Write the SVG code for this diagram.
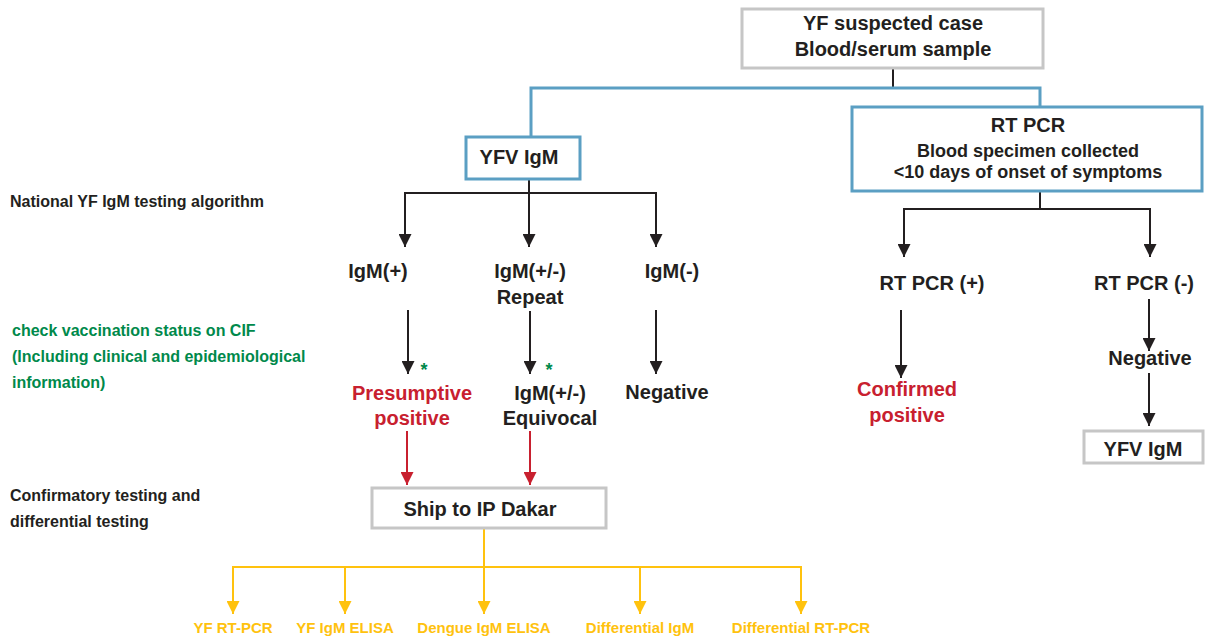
<svg xmlns="http://www.w3.org/2000/svg" width="1205" height="636" viewBox="0 0 1205 636">
  <defs>
    <style>
      text { font-family: "Liberation Sans Narrow", "Liberation Sans", "DejaVu Sans Condensed", sans-serif; font-weight: bold; }
      .t { font-size: 20px; fill: #231f20; text-anchor: middle; }
      .lbl { font-size: 16px; fill: #231f20; }
      .grn { font-size: 16px; fill: #00894b; }
      .red { fill: #c8202f; }
      .yel { font-size: 15px; fill: #ffc20e; text-anchor: middle; }
      .box-grey { fill: #ffffff; stroke: #c6c6c6; stroke-width: 3; }
      .box-blue { fill: #ffffff; stroke: #5b9fc3; stroke-width: 3; }
      .k { fill: none; stroke: #231f20; stroke-width: 2; }
      .b { fill: none; stroke: #5b9fc3; stroke-width: 3; }
      .r { fill: none; stroke: #c8202f; stroke-width: 2; }
      .y { fill: none; stroke: #ffc20e; stroke-width: 2; }
      .star { font-size: 18px; fill: #00894b; text-anchor: middle; }
    </style>
    <!-- filled arrowheads, drawn pointing along the path direction -->
    <marker id="ak" markerWidth="13" markerHeight="13" viewBox="0 0 13 13" refX="13" refY="6.5" orient="auto" markerUnits="userSpaceOnUse">
      <path d="M0,0 L13,6.5 L0,13 Z" fill="#231f20"/>
    </marker>
    <marker id="ar" markerWidth="13" markerHeight="13" viewBox="0 0 13 13" refX="13" refY="6.5" orient="auto" markerUnits="userSpaceOnUse">
      <path d="M0,0 L13,6.5 L0,13 Z" fill="#c8202f"/>
    </marker>
    <marker id="ay" markerWidth="13" markerHeight="13" viewBox="0 0 13 13" refX="13" refY="6.5" orient="auto" markerUnits="userSpaceOnUse">
      <path d="M0,0 L13,6.5 L0,13 Z" fill="#ffc20e"/>
    </marker>
  </defs>
  <rect width="1205" height="636" fill="#ffffff"/>

  <!-- connectors -->
  <g id="connectors">
    <path class="k" d="M893,68 V88"/>
    <path class="b" d="M531,137 V88 H1040 V107"/>
    <path class="k" d="M529,180 V193 M404,193 H657"/>
    <path class="k" d="M405,193 V247" marker-end="url(#ak)"/>
    <path class="k" d="M529,193 V247" marker-end="url(#ak)"/>
    <path class="k" d="M656,193 V247" marker-end="url(#ak)"/>
    <path class="k" d="M1040,191 V209 M903,209 H1151"/>
    <path class="k" d="M904,209 V257" marker-end="url(#ak)"/>
    <path class="k" d="M1150,209 V257" marker-end="url(#ak)"/>
    <path class="k" d="M408,310 V374" marker-end="url(#ak)"/>
    <path class="k" d="M530,311 V374" marker-end="url(#ak)"/>
    <path class="k" d="M656,310 V374" marker-end="url(#ak)"/>
    <path class="k" d="M901,310 V378" marker-end="url(#ak)"/>
    <path class="k" d="M1149,299 V351" marker-end="url(#ak)"/>
    <path class="k" d="M1149,373 V426" marker-end="url(#ak)"/>
    <path class="r" d="M407,431 V485" marker-end="url(#ar)"/>
    <path class="r" d="M530,431 V485" marker-end="url(#ar)"/>
    <path class="y" d="M484,529 V567 M232,567 H802"/>
    <path class="y" d="M233,567 V614" marker-end="url(#ay)"/>
    <path class="y" d="M345,567 V614" marker-end="url(#ay)"/>
    <path class="y" d="M484,567 V614" marker-end="url(#ay)"/>
    <path class="y" d="M640,567 V614" marker-end="url(#ay)"/>
    <path class="y" d="M801,567 V614" marker-end="url(#ay)"/>
  </g>

  <!-- section captions -->
  <g id="captions">
    <text class="lbl" x="10" y="207">National YF IgM testing algorithm</text>
    <text class="grn" x="12" y="336">check vaccination status on CIF</text>
    <text class="grn" x="12" y="362">(Including clinical and epidemiological</text>
    <text class="grn" x="12" y="388">information)</text>
    <text class="lbl" x="10" y="501">Confirmatory testing and</text>
    <text class="lbl" x="10" y="527">differential testing</text>
  </g>

  <g id="suspected-case">
    <rect class="box-grey" x="742" y="9" width="301" height="59"/>
    <text class="t" x="893" y="30">YF suspected case</text>
    <text class="t" x="893" y="56">Blood/serum sample</text>
  </g>

  <g id="yfv-igm">
    <rect class="box-blue" x="466" y="137" width="114" height="42"/>
    <text class="t" x="519" y="164">YFV IgM</text>
  </g>

  <g id="rt-pcr">
    <rect class="box-blue" x="852" y="107" width="350" height="84"/>
    <text class="t" x="1028" y="132">RT PCR</text>
    <text class="t" x="1028" y="157" style="font-size:18px">Blood specimen collected</text>
    <text class="t" x="1028" y="178" style="font-size:18px">&lt;10 days of onset of symptoms</text>
  </g>

  <g id="igm-pos"><text class="t" x="378" y="278">IgM(+)</text></g>
  <g id="igm-equ"><text class="t" x="530" y="278">IgM(+/-)</text><text class="t" x="530" y="304">Repeat</text></g>
  <g id="igm-neg"><text class="t" x="672" y="278">IgM(-)</text></g>

  <g id="presumptive">
    <text class="star" x="424" y="376">*</text>
    <text class="t red" x="412" y="400">Presumptive</text>
    <text class="t red" x="412" y="425">positive</text>
  </g>
  <g id="equivocal">
    <text class="star" x="549" y="376">*</text>
    <text class="t" x="550" y="400">IgM(+/-)</text>
    <text class="t" x="550" y="425">Equivocal</text>
  </g>
  <g id="negative"><text class="t" x="667" y="399">Negative</text></g>

  <g id="rtpcr-pos"><text class="t" x="932" y="290">RT PCR (+)</text></g>
  <g id="rtpcr-neg"><text class="t" x="1144" y="290">RT PCR (-)</text></g>
  <g id="confirmed">
    <text class="t red" x="907" y="396">Confirmed</text>
    <text class="t red" x="907" y="422">positive</text>
  </g>
  <g id="rtpcr-negative"><text class="t" x="1150" y="365">Negative</text></g>
  <g id="yfv-igm-2">
    <rect class="box-grey" x="1084" y="431" width="119" height="32"/>
    <text class="t" x="1143" y="456">YFV IgM</text>
  </g>

  <g id="ship">
    <rect class="box-grey" x="372" y="488" width="234" height="40"/>
    <text class="t" x="480" y="516">Ship to IP Dakar</text>
  </g>

  <g id="yf-rtpcr"><text class="yel" x="233" y="633">YF RT-PCR</text></g>
  <g id="yf-elisa"><text class="yel" x="345" y="633">YF IgM ELISA</text></g>
  <g id="dengue-elisa"><text class="yel" x="484" y="633">Dengue IgM ELISA</text></g>
  <g id="diff-igm"><text class="yel" x="640" y="633">Differential IgM</text></g>
  <g id="diff-rtpcr"><text class="yel" x="801" y="633">Differential RT-PCR</text></g>
</svg>
